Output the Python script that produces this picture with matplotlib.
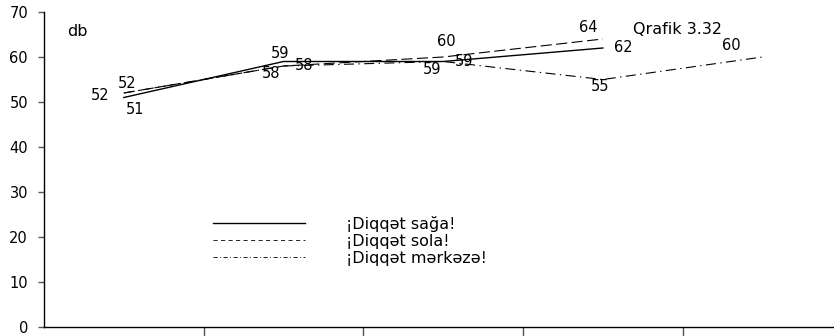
import matplotlib
matplotlib.use("Agg")
import matplotlib.pyplot as plt
from matplotlib.lines import Line2D

plt.rcParams['font.family'] = ['DejaVu Sans']

# Data
x_all = [0, 1, 2, 3, 4]
sag = [51, 59, 59, 62]          # ¡Diqqət sağa!
sol = [52, 58, 60, 64]          # ¡Diqqət sola!
merkez = [52, 58, 59, 55, 60]   # ¡Diqqət mərkəzə!
labels = ['¡Diqqət sağa!', '¡Diqqət sola!', '¡Diqqət mərkəzə!']
yticks = [0, 10, 20, 30, 40, 50, 60, 70]

NUM_FS = 10.5
TXT_FS = 11.5

W, H = 834, 336
fig = plt.figure(figsize=(W / 100, H / 100), dpi=100)
ax = fig.add_axes([44 / W, 1 - 327 / H, (W - 44) / W + 0.01, (327 - 12) / H])

l1, = ax.plot(x_all[:len(sag)], sag, color='black', lw=1.0, ls='-')
l2, = ax.plot(x_all[:len(sol)], sol, color='black', lw=0.8, dashes=(10, 4))
l3, = ax.plot(x_all[:len(merkez)], merkez, color='black', lw=0.8, dashes=(9, 4, 1.2, 4))

ax.set_xlim(-0.5, 4.5)
ax.set_ylim(0, 70)
ax.set_yticks(yticks)
ax.set_yticklabels([str(v) for v in yticks], fontsize=NUM_FS)
ax.tick_params(axis='y', length=4.5, width=1, color='#555555', pad=7)
ax.set_xticks([0.5, 1.5, 2.5, 3.5])
ax.set_xticklabels([])
ax.tick_params(axis='x', length=7, width=1, color='#555555', direction='out')

for s in ['top', 'right']:
    ax.spines[s].set_visible(False)
for s in ['left', 'bottom']:
    ax.spines[s].set_linewidth(1)
    ax.spines[s].set_color('black')

def lab(xi, yi, dx, dy):
    ax.annotate(str(yi), (xi, yi), xytext=(dx, dy), textcoords='offset pixels',
                ha='center', va='center', fontsize=NUM_FS)

# sağa labels
for xi, yi, d in zip(x_all, sag, [(11, -12.5), (-3, 8.5), (-11, -8.5), (20, 0)]):
    lab(xi, yi, *d)
# sola labels
for xi, yi, d in zip(x_all, sol, [(3, 10), (-12, -8), (3, 15), (-15, 11)]):
    lab(xi, yi, *d)
# mərkəzə labels
for xi, yi, d in zip(x_all, merkez, [(-24, -2), (21, 0), (21, 0), (-3, -7), (-31, 11)]):
    lab(xi, yi, *d)

fig.text(77 / W, 1 - 31 / H, 'db', fontsize=TXT_FS, ha='center', va='center')
fig.text(633 / W, 1 - 29 / H, 'Qrafik 3.32', fontsize=TXT_FS, ha='left', va='center')

h1 = Line2D([], [], color='black', lw=1.0)
h2 = Line2D([], [], color='black', lw=0.6, dashes=(5, 4))
h3 = Line2D([], [], color='black', lw=0.6, dashes=(5, 3, 1, 3))
leg = ax.legend([h1, h2, h3], labels, loc='upper left',
                bbox_to_anchor=(213 / W, 1 - 216 / H), bbox_transform=fig.transFigure,
                frameon=False, fontsize=TXT_FS, handlelength=92 / (TXT_FS * 100 / 72),
                handletextpad=41 / (TXT_FS * 100 / 72),
                labelspacing=0.12, borderpad=0, borderaxespad=0)

fig.savefig('out.png', dpi=100)
